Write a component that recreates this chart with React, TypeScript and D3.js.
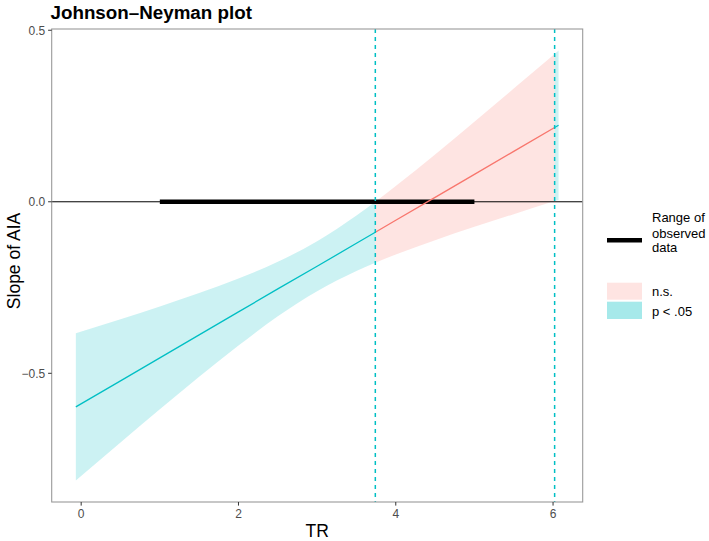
import React from 'react';
import * as d3 from 'd3';

// Values
const xValues = [-0.068, 0.5, 1, 1.5, 2, 2.5, 3, 3.5, 3.74, 4, 4.5, 5, 5.5, 6.02, 6.07];
const estimate = [-0.598, -0.522, -0.455, -0.388, -0.321, -0.254, -0.188, -0.121, -0.089, -0.054, 0.013, 0.08, 0.147, 0.2165, 0.223];
const lower = [-0.8125, -0.7015, -0.605, -0.51, -0.419, -0.334, -0.261, -0.202, -0.178, -0.154, -0.112, -0.073, -0.036, 0.002, 0.005];
const upper = [-0.3835, -0.3425, -0.305, -0.266, -0.224, -0.175, -0.115, -0.04, 0.0, 0.046, 0.138, 0.233, 0.33, 0.431, 0.441];
const jnBounds = [3.74, 6.02];
const observedRange = [1, 5];
const xTicks = [0, 2, 4, 6];
const yTicks = [-0.5, 0, 0.5];
const legendSig = ['n.s.', 'p < .05'];

const W = 709;
const H = 541;
const panel = { left: 51.7, right: 582.7, top: 29, bottom: 502 };
const TEAL = '#00BFC4';
const RED = '#F8766D';
const FONT = '"Liberation Sans", Arial, Helvetica, sans-serif';

type Pt = { x: number; est: number; lo: number; hi: number };

export default function App() {
  const data: Pt[] = xValues.map((x, i) => ({ x, est: estimate[i], lo: lower[i], hi: upper[i] }));
  const xr = d3.extent(xValues) as [number, number];
  const xSpan = xr[1] - xr[0];
  const yMin = d3.min(lower) as number;
  const yMax = d3.max(upper) as number;
  const ySpan = yMax - yMin;
  const x = d3.scaleLinear().domain([xr[0] - 0.05 * xSpan, xr[1] + 0.05 * xSpan]).range([panel.left, panel.right]);
  const y = d3.scaleLinear().domain([yMin - 0.05 * ySpan, yMax + 0.05 * ySpan]).range([panel.bottom, panel.top]);

  const sigLeft = data.filter((d) => d.x <= jnBounds[0]);
  const ns = data.filter((d) => d.x >= jnBounds[0] && d.x <= jnBounds[1]);
  const sigRight = data.filter((d) => d.x >= jnBounds[1]);

  const area = d3.area<Pt>().x((d) => x(d.x)).y0((d) => y(d.lo)).y1((d) => y(d.hi)).curve(d3.curveMonotoneX);
  const line = d3.line<Pt>().x((d) => x(d.x)).y((d) => y(d.est));

  const fmtY = (v: number) => (v < 0 ? '\u2212' : '') + Math.abs(v).toFixed(1);

  return (
    <svg width={W} height={H} style={{ position: 'absolute', left: 0, top: 0, background: '#fff' }} fontFamily={FONT}>
      <rect x={0} y={0} width={W} height={H} fill="#fff" />
      {/* bands */}
      <path d={area(sigLeft) || ''} fill={TEAL} fillOpacity={0.2} />
      <path d={area(ns) || ''} fill={RED} fillOpacity={0.2} />
      <path d={area(sigRight) || ''} fill={TEAL} fillOpacity={0.2} />
      {/* zero line */}
      <line x1={panel.left} x2={panel.right} y1={y(0)} y2={y(0)} stroke="#000" strokeWidth={1} />
      {/* observed range */}
      <line x1={x(observedRange[0])} x2={x(observedRange[1])} y1={y(0)} y2={y(0)} stroke="#000" strokeWidth={4.5} />
      {/* estimate lines */}
      <path d={line(sigLeft) || ''} fill="none" stroke={TEAL} strokeWidth={1.3} />
      <path d={line(ns) || ''} fill="none" stroke={RED} strokeWidth={1.3} />
      <path d={line(sigRight) || ''} fill="none" stroke={TEAL} strokeWidth={1.3} />
      {/* JN bounds */}
      {jnBounds.map((b) => (
        <line key={b} x1={x(b)} x2={x(b)} y1={panel.top} y2={panel.bottom} stroke={TEAL} strokeWidth={1.5} strokeDasharray="4,4" />
      ))}
      {/* panel border */}
      <rect x={panel.left} y={panel.top} width={panel.right - panel.left} height={panel.bottom - panel.top} fill="none" stroke="#9a9a9a" strokeWidth={1.1} />
      {/* y axis */}
      {yTicks.map((t) => (
        <g key={t}>
          <line x1={panel.left - 3.6} x2={panel.left} y1={y(t)} y2={y(t)} stroke="#333" strokeWidth={1} />
          <text x={panel.left - 6.5} y={y(t)} dy="0.36em" textAnchor="end" fontSize={12} fill="#4d4d4d">{fmtY(t)}</text>
        </g>
      ))}
      {/* x axis */}
      {xTicks.map((t) => (
        <g key={t}>
          <line x1={x(t)} x2={x(t)} y1={panel.bottom} y2={panel.bottom + 3.6} stroke="#333" strokeWidth={1} />
          <text x={x(t)} y={panel.bottom + 16} textAnchor="middle" fontSize={12} fill="#4d4d4d">{t}</text>
        </g>
      ))}
      {/* axis titles */}
      <text x={(panel.left + panel.right) / 2} y={537} textAnchor="middle" fontSize={17.5} fill="#000">TR</text>
      <text transform={`translate(20,${261}) rotate(-90)`} textAnchor="middle" fontSize={17.5} fill="#000">Slope of AIA</text>
      {/* title */}
      <text x={50.5} y={18.5} fontSize={18.8} fontWeight="bold" fill="#000">Johnson–Neyman plot</text>
      {/* legend */}
      <line x1={607} x2={642} y1={240.3} y2={240.3} stroke="#000" strokeWidth={4.5} />
      <text x={652} fontSize={13} fill="#000">
        <tspan x={652} y={222.3}>Range of</tspan>
        <tspan x={652} y={237.5}>observed</tspan>
        <tspan x={652} y={252}>data</tspan>
      </text>
      <rect x={607} y={282.7} width={35} height={17} fill={RED} fillOpacity={0.2} />
      <rect x={607} y={301.7} width={35} height={17.3} fill={TEAL} fillOpacity={0.35} />
      <text x={652} y={296.3} fontSize={13} fill="#000">{legendSig[0]}</text>
      <text x={652} y={315.5} fontSize={13} fill="#000">{legendSig[1]}</text>
    </svg>
  );
}
